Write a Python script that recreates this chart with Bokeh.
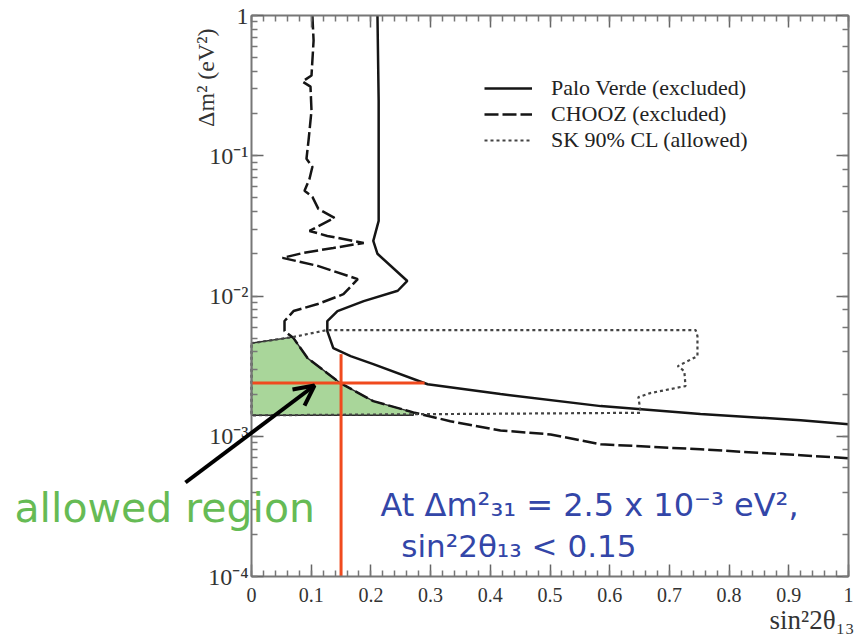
import math
from bokeh.plotting import figure
from bokeh.models import (LinearAxis, LogAxis, Label, Arrow, OpenHead, Legend, LegendItem,
                          CustomJSTickFormatter, SingleIntervalTicker, LogTicker)
from bokeh.embed import file_html
from bokeh.resources import INLINE

# ---------------- data ----------------
# Palo Verde exclusion contour (sin^2 2theta13, dm^2 in eV^2)
palo_x = [0.211, 0.213, 0.213, 0.213, 0.204, 0.211, 0.261, 0.245, 0.188, 0.144, 0.127,
          0.127, 0.137, 0.166, 0.204, 0.295, 0.417, 0.585, 0.752, 0.920, 1.0]
palo_y = [1.0, 0.247, 0.0477, 0.0343, 0.0247, 0.0200, 0.0128, 0.0109, 0.0092, 0.00781, 0.00663,
          0.00562, 0.00425, 0.00373, 0.00327, 0.00235, 0.00200, 0.00164, 0.00144, 0.00130, 0.00122]

# CHOOZ exclusion contour
chooz_x = [0.102, 0.104, 0.1005, 0.0854, 0.0988, 0.1005, 0.0955, 0.0921, 0.102, 0.0972,
           0.0888, 0.102, 0.112, 0.139, 0.0972, 0.127, 0.188, 0.137, 0.0871, 0.0519,
           0.111, 0.178, 0.154, 0.111, 0.0704, 0.0553, 0.0553, 0.0704, 0.0938, 0.149,
           0.204, 0.271, 0.333, 0.417, 0.501, 0.585, 0.752, 0.920, 1.0]
chooz_y = [1.0, 0.663, 0.373, 0.338, 0.311, 0.210, 0.128, 0.0952, 0.0834, 0.0685,
           0.0562, 0.0509, 0.0418, 0.0361, 0.0291, 0.0268, 0.0239, 0.0220, 0.0203, 0.0187,
           0.0164, 0.0132, 0.0103, 0.00877, 0.00781, 0.00663, 0.00562, 0.00501, 0.00361, 0.00239,
           0.00178, 0.00148, 0.00128, 0.00110, 0.00103, 0.000877, 0.000807, 0.000732, 0.000697]

# Super-Kamiokande 90% CL allowed contour
sk_x = [0.0, 0.0687, 0.127, 0.744, 0.747, 0.747, 0.714, 0.725, 0.727, 0.668, 0.648, 0.652, 0.0, 0.0]
sk_y = [0.00461, 0.00509, 0.00572, 0.00572, 0.00518, 0.00373, 0.00316, 0.00291, 0.00228,
        0.00203, 0.00190, 0.00147, 0.00141, 0.00461]

# allowed (green) region
green_x = [0.0, 0.0687, 0.0704, 0.0938, 0.149, 0.204, 0.271, 0.271, 0.0]
green_y = [0.00461, 0.00509, 0.00501, 0.00361, 0.00239, 0.00178, 0.00148, 0.00141, 0.00141]

# red guide lines: sin^2 2theta13 = 0.15 and dm^2_31 = 2.5e-3
red_v_x = [0.15, 0.15]
red_v_y = [1e-4, 0.00385]
red_h_x = [0.0, 0.29]
red_h_y = [0.0024, 0.0024]

legend_labels = ["Palo Verde (excluded)", "CHOOZ (excluded)", "SK 90% CL (allowed)"]

# ---------------- layout: the frame is the whole canvas, the box is drawn by fixed axes ----
W, H = 858, 642
BOX_L, BOX_R, BOX_T, BOX_B = 251, 848, 15, 576
XMIN, XMAX, YMIN, YMAX = 0.0, 1.0, 1e-4, 1.0
sx = (BOX_R - BOX_L) / (XMAX - XMIN)
dec = (BOX_B - BOX_T) / (math.log10(YMAX) - math.log10(YMIN))
x_lo = XMIN - BOX_L / sx
x_hi = XMAX + (W - BOX_R) / sx
y_hi = 10 ** (math.log10(YMAX) + BOX_T / dec)
y_lo = 10 ** (math.log10(YMIN) - (H - BOX_B) / dec)

p = figure(width=W, height=H, x_range=(x_lo, x_hi), y_range=(y_lo, y_hi), y_axis_type="log",
           output_backend="svg", toolbar_location=None,
           min_border_left=0, min_border_right=0, min_border_top=0, min_border_bottom=0)
p.grid.visible = False
p.outline_line_color = None
p.background_fill_color = "white"
p.border_fill_color = "white"

SERIF = "Liberation Serif"
AX = "#777777"


def style_axis(ax):
    ax.axis_line_color = AX
    ax.axis_line_width = 2
    ax.major_tick_in = 12
    ax.major_tick_out = 0
    ax.minor_tick_in = 6
    ax.minor_tick_out = 0
    ax.major_tick_line_color = "#666666"
    ax.minor_tick_line_color = AX
    ax.major_tick_line_width = 1.5
    ax.minor_tick_line_width = 1.5


xa = p.xaxis[0]
xa.ticker = SingleIntervalTicker(interval=0.1, num_minor_ticks=5)
xa.formatter = CustomJSTickFormatter(code="return (Math.round(tick*10)/10).toString();")
xa.fixed_location = YMIN
xa.bounds = (XMIN, XMAX)
ya = p.yaxis[0]
ya.formatter = CustomJSTickFormatter(code="""
const e = Math.round(Math.log10(tick));
if (e === 0) { return '1'; }
const sup = {'0':'\u2070','1':'\u00b9','2':'\u00b2','3':'\u00b3','4':'\u2074','-':'\u207b'};
return '10' + String(e).split('').map(c => sup[c]).join('');
""")
ya.fixed_location = XMIN
ya.bounds = (YMIN, YMAX)
for ax in (xa, ya):
    style_axis(ax)
    ax.major_label_text_font = SERIF
    ax.major_label_text_color = "#333333"
xa.major_label_text_font_size = "20px"
xa.major_label_standoff = 11
ya.major_label_text_font_size = "24px"
ya.major_label_standoff = 3

blank = CustomJSTickFormatter(code="return '';")
top = LinearAxis(ticker=SingleIntervalTicker(interval=0.1, num_minor_ticks=5), formatter=blank,
                 fixed_location=YMAX, bounds=(XMIN, XMAX))
right = LogAxis(ticker=LogTicker(), formatter=blank, fixed_location=XMAX, bounds=(YMIN, YMAX))
for ax in (top, right):
    style_axis(ax)
    ax.major_label_text_font_size = "0px"
    ax.major_label_standoff = 0
p.add_layout(top, "above")
p.add_layout(right, "right")

# green allowed region
p.patch(green_x, green_y, fill_color="#a9d69a", line_color="#2a2a2a", line_width=1.5)

# contours
r_palo = p.line(palo_x, palo_y, line_color="#151515", line_width=2.5)
r_chooz = p.line(chooz_x, chooz_y, line_color="#151515", line_width=2.5, line_dash="14 4")
r_sk = p.line(sk_x, sk_y, line_color="#444444", line_width=2.2, line_dash="3 3")

# red guide lines
p.line(red_v_x, red_v_y, line_color="#f04a1e", line_width=3)
p.line(red_h_x, red_h_y, line_color="#f04a1e", line_width=3)

# legend
legend = Legend(items=[LegendItem(label=legend_labels[0], renderers=[r_palo]),
                       LegendItem(label=legend_labels[1], renderers=[r_chooz]),
                       LegendItem(label=legend_labels[2], renderers=[r_sk])],
                location=(484, 489), glyph_width=48, glyph_height=20, label_height=20,
                label_standoff=19, spacing=0, padding=0, margin=0,
                border_line_alpha=0, background_fill_alpha=0,
                label_text_font=SERIF, label_text_font_size="22px", label_text_color="#222222")
p.add_layout(legend)

# axis titles
p.add_layout(Label(x=-0.077, y=0.36, text="\u0394m\u00b2 (eV\u00b2)", angle=math.pi / 2,
                   text_align="center", text_baseline="middle",
                   text_font=SERIF, text_font_size="24px", text_color="#333333"))
p.add_layout(Label(x=1.010, y=4.86e-5, text="sin\u00b22\u03b8\u2081\u2083", text_align="right",
                   text_baseline="middle", text_font=SERIF, text_font_size="27px",
                   text_color="#333333"))

# annotations
p.add_layout(Label(x=-0.397, y=3.1e-4, text="allowed region", text_align="left",
                   text_baseline="middle", text_font="DejaVu Sans", text_font_size="41px",
                   text_color="#66bb55"))
p.add_layout(Label(x=0.216, y=3.21e-4, text="At \u0394m\u00b2\u2083\u2081 = 2.5 x 10\u207b\u00b3 eV\u00b2,",
                   text_align="left", text_baseline="middle", text_font="DejaVu Sans",
                   text_font_size="32px", text_color="#3346a8"))
p.add_layout(Label(x=0.251, y=1.64e-4, text="sin\u00b22\u03b8\u2081\u2083 < 0.15",
                   text_align="left", text_baseline="middle", text_font="DejaVu Sans",
                   text_font_size="31px", text_color="#3346a8"))

p.add_layout(Arrow(end=OpenHead(size=20, line_width=4, line_color="black"),
                   x_start=-0.1106, y_start=4.68e-4, x_end=0.1055, y_end=2.30e-3,
                   line_width=4, line_color="black"))

open("out.html", "w", encoding="utf-8").write(file_html(p, INLINE))
